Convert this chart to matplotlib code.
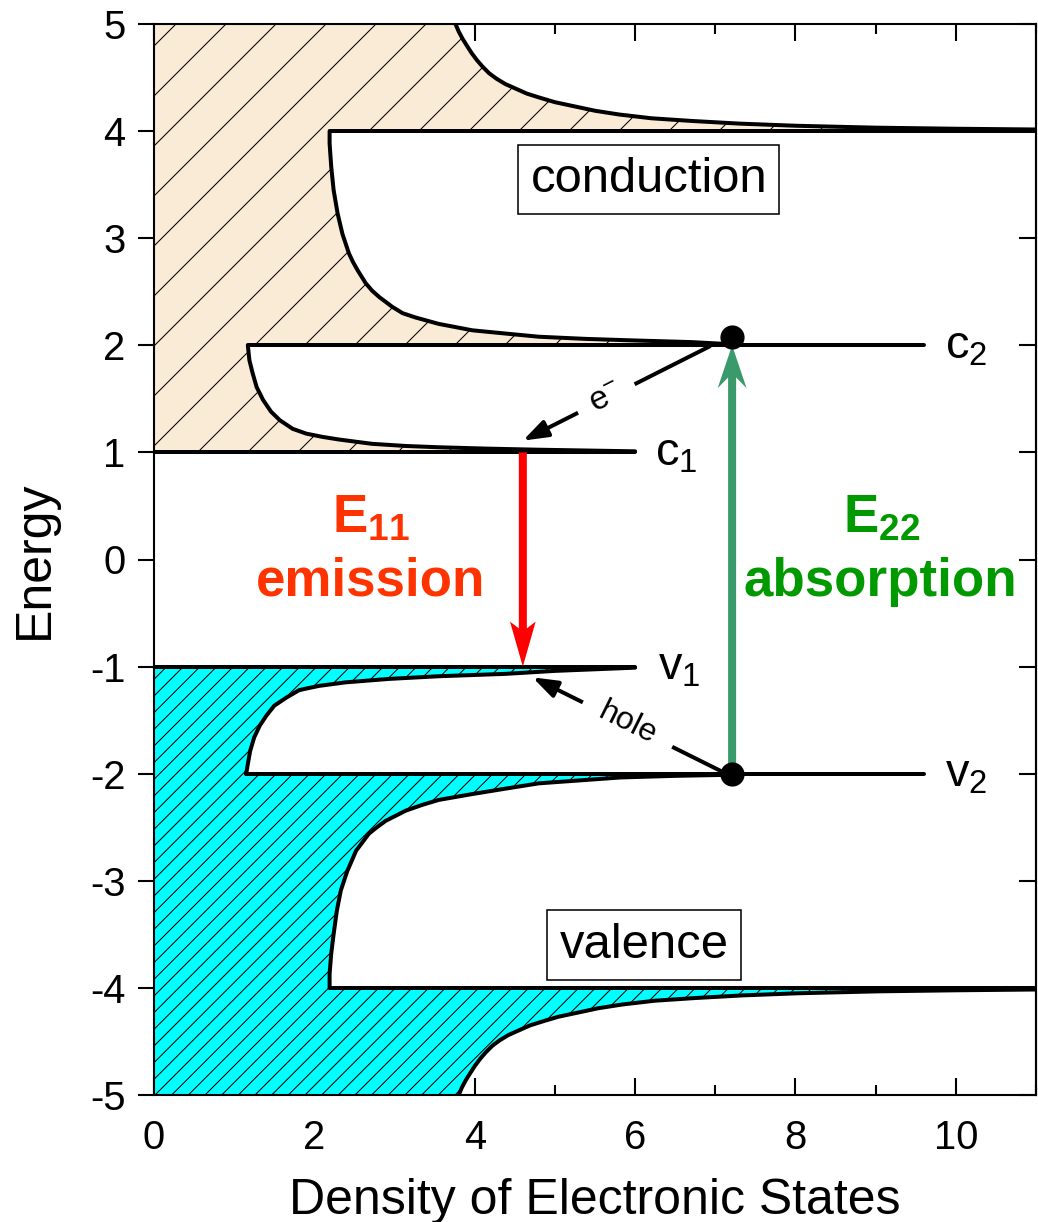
import numpy as np
import matplotlib.pyplot as plt
from matplotlib.ticker import MultipleLocator

plt.rcParams['font.family'] = ['Liberation Sans', 'DejaVu Sans']
plt.rcParams['mathtext.fontset'] = 'custom'
plt.rcParams['mathtext.rm'] = 'Liberation Sans'
plt.rcParams['mathtext.it'] = 'Liberation Sans:italic'
plt.rcParams['mathtext.bf'] = 'Liberation Sans:bold'
plt.rcParams['axes.unicode_minus'] = False
plt.rcParams['hatch.linewidth'] = 0.5

# density of states (x = DOS, y = energy)
c1_dos = [6.0, 4.80, 4.17, 3.55, 3.14, 2.72, 2.31, 2.10, 1.90, 1.73, 1.57, 1.46, 1.36, 1.28, 1.23, 1.19, 1.17]
c1_en = [1.01, 1.025, 1.035, 1.048, 1.06, 1.08, 1.12, 1.145, 1.175, 1.22, 1.30, 1.38, 1.49, 1.61, 1.74, 1.86, 2.0]

c2_dos = [7.2, 6.7, 6.0, 5.38, 4.80, 4.38, 3.97, 3.55, 3.26, 3.10, 2.97, 2.81, 2.72, 2.64, 2.54, 2.48,
          2.43, 2.35, 2.29, 2.24, 2.21, 2.19, 2.19]
c2_en = [2.01, 2.03, 2.045, 2.06, 2.08, 2.11, 2.14, 2.20, 2.26, 2.30, 2.36, 2.45, 2.51, 2.58, 2.70, 2.78,
         2.86, 3.04, 3.23, 3.45, 3.67, 3.885, 4.0]

c3_dos = [11.0, 10.0, 9.0, 8.0, 7.3, 6.7, 6.2, 5.8, 5.5, 5.25, 5.0, 4.82, 4.65, 4.50, 4.38, 4.27,
          4.18, 4.10, 4.03, 3.96, 3.90, 3.85, 3.80, 3.76]
c3_en = [4.015, 4.022, 4.032, 4.05, 4.07, 4.095, 4.12, 4.155, 4.19, 4.23, 4.27, 4.31, 4.35, 4.40, 4.44, 4.49,
         4.54, 4.60, 4.66, 4.73, 4.80, 4.86, 4.93, 5.0]

v1_dos = [6.0, 5.0, 4.38, 3.55, 2.93, 2.39, 2.06, 1.90, 1.81, 1.73, 1.65, 1.57, 1.50, 1.40, 1.32, 1.25, 1.20, 1.17, 1.15]
v1_en = [-1.01, -1.04, -1.068, -1.09, -1.115, -1.147, -1.18, -1.205, -1.22, -1.255, -1.29, -1.33, -1.365,
         -1.46, -1.55, -1.66, -1.785, -1.91, -2.0]

v2_dos = [7.2, 6.5, 5.82, 4.80, 4.38, 3.97, 3.55, 3.35, 3.14, 2.89, 2.78, 2.68, 2.52, 2.41, 2.33, 2.28,
          2.24, 2.21, 2.19, 2.19]
v2_en = [-2.01, -2.02, -2.035, -2.09, -2.14, -2.19, -2.245, -2.29, -2.345, -2.44, -2.50, -2.56, -2.72,
         -2.91, -3.09, -3.28, -3.50, -3.68, -3.87, -4.0]

v3_dos = [11.0, 10.04, 9.04, 8.04, 7.34, 6.74, 6.24, 5.84, 5.54, 5.29, 5.04, 4.86, 4.69, 4.54, 4.42, 4.31,
          4.22, 4.14, 4.07, 4.00, 3.94, 3.89, 3.84, 3.80]
v3_en = [-4.015, -4.022, -4.032, -4.05, -4.07, -4.095, -4.12, -4.155, -4.19, -4.23, -4.27, -4.31, -4.35,
         -4.40, -4.44, -4.49, -4.54, -4.60, -4.66, -4.73, -4.80, -4.86, -4.93, -5.0]

# horizontal level lines
level_en = [1, 2, 4, -1, -2, -4]
level_start = [0, 1.17, 2.19, 0, 1.15, 2.19]
level_end = [6.0, 9.6, 11, 6.0, 9.6, 11]

# level labels
lab_text = ['c$_1$', 'c$_2$', 'v$_1$', 'v$_2$']
lab_x = [6.25, 9.86, 6.28, 9.86]
lab_en = [1, 2, -1, -2]

# transitions
e11_x = 4.6
e22_x = 7.21

fig = plt.figure(figsize=(1038 / 150, 1222 / 150), dpi=150)
ax = fig.add_axes([154 / 1038, 1 - 1095 / 1222, (1036 - 154) / 1038, (1095 - 24) / 1222])

lw = 1.92

# filled states
cond_x = [0] + c1_dos + c2_dos + c3_dos + [0]
cond_y = [1] + c1_en + c2_en + c3_en + [5]
ax.fill(cond_x, cond_y, facecolor='#FAEBD7', edgecolor='black', hatch='/', lw=0, zorder=3)
val_x = [0] + v1_dos + v2_dos + v3_dos + [0]
val_y = [-1] + v1_en + v2_en + v3_en + [-5]
ax.fill(val_x, val_y, facecolor='#00FFFF', edgecolor='black', hatch='///', lw=0, zorder=3)

for xs, ys in [(c1_dos, c1_en), (c2_dos, c2_en), (c3_dos, c3_en),
               (v1_dos, v1_en), (v2_dos, v2_en), (v3_dos, v3_en)]:
    ax.plot(xs, ys, color='black', lw=lw, zorder=4, solid_capstyle='round', solid_joinstyle='round')
ax.hlines(level_en, level_start, level_end, color='black', lw=lw, zorder=4, capstyle='round')

for t, x, e in zip(lab_text, lab_x, lab_en):
    ax.text(x, e - 0.12, t, fontsize=22.5, ha='left', va='baseline')

# E11 emission and E22 absorption arrows
ax.arrow(e11_x, 1.0, 0, -2.0, width=0.1, head_width=0.32, head_length=0.42,
         length_includes_head=True, overhang=0.15, color='#FF0000', lw=0, zorder=5)
ax.arrow(e22_x, -2.0, 0, 4.0, width=0.1, head_width=0.36, head_length=0.4,
         length_includes_head=True, overhang=0.25, color='#3A9A6B', lw=0, zorder=5)
ax.plot([e22_x, e22_x], [2.08, -2.0], 'o', color='black', ms=10.6, zorder=6)

# relaxation arrows
ax.annotate('', xy=(4.60, 1.11), xytext=(6.93, 1.99),
            arrowprops=dict(arrowstyle='-|>,head_length=1.0,head_width=0.35', color='black',
                            lw=lw, mutation_scale=10, shrinkA=0, shrinkB=0), zorder=3.5)
ax.text(5.64, 1.505, 'e$^{-}$', fontsize=16, rotation=26.7, ha='center', va='center',
        rotation_mode='anchor', zorder=3.8,
        bbox=dict(boxstyle='square,pad=0.45', fc='white', ec='none'))
ax.annotate('', xy=(4.72, -1.10), xytext=(7.11, -1.99),
            arrowprops=dict(arrowstyle='-|>,head_length=1.0,head_width=0.35', color='black',
                            lw=lw, mutation_scale=10, shrinkA=0, shrinkB=0), zorder=3.5)
ax.text(5.91, -1.535, 'hole', fontsize=15.5, rotation=-26.5, ha='center', va='center',
        rotation_mode='anchor', zorder=3.8,
        bbox=dict(boxstyle='square,pad=0.6', fc='white', ec='none'))

ax.text(2.7, 0.25, r'E$_{\mathbf{11}}$', fontsize=25.4, fontweight='bold', color='#FF3300',
        ha='center', va='baseline')
ax.text(2.7, -0.34, 'emission', fontsize=25.4, fontweight='bold', color='#FF3300',
        ha='center', va='baseline')
ax.text(9.08, 0.25, r'E$_{\mathbf{22}}$', fontsize=25.4, fontweight='bold', color='#009900',
        ha='center', va='baseline')
ax.text(9.06, -0.34, 'absorption', fontsize=25.4, fontweight='bold', color='#009900',
        ha='center', va='baseline')

box = dict(boxstyle='square,pad=0.25', fc='white', ec='black', lw=0.75)
ax.text(6.17, 3.55, 'conduction', fontsize=23.5, ha='center', va='center', bbox=box, zorder=6)
ax.text(6.11, -3.6, 'valence', fontsize=23.5, ha='center', va='center', bbox=box, zorder=6)

ax.set_xlim(0, 11)
ax.set_ylim(-5, 5)
ax.xaxis.set_major_locator(MultipleLocator(2))
ax.xaxis.set_minor_locator(MultipleLocator(1))
ax.yaxis.set_major_locator(MultipleLocator(1))
ax.tick_params(axis='x', which='both', direction='in', top=True, bottom=True,
               labelsize=19.2, pad=11.7, width=1.0)
ax.tick_params(axis='x', which='major', length=8.3)
ax.tick_params(axis='x', which='minor', length=4.6)
ax.tick_params(axis='y', which='major', direction='out', left=True, right=False,
               labelsize=19.2, pad=5.8, width=1.0, length=7.9)
sec = ax.secondary_yaxis('right')
sec.yaxis.set_major_locator(MultipleLocator(1))
sec.tick_params(direction='in', length=8.3, width=1.0, labelright=False)
sec.spines['right'].set_linewidth(1.0)
for s in ax.spines.values():
    s.set_linewidth(1.0)
    s.set_zorder(5)

ax.set_xlabel('Density of Electronic States', fontsize=24, labelpad=10)
ax.set_ylabel('Energy', fontsize=24, labelpad=15.5)

fig.savefig('out.png', dpi=150)
